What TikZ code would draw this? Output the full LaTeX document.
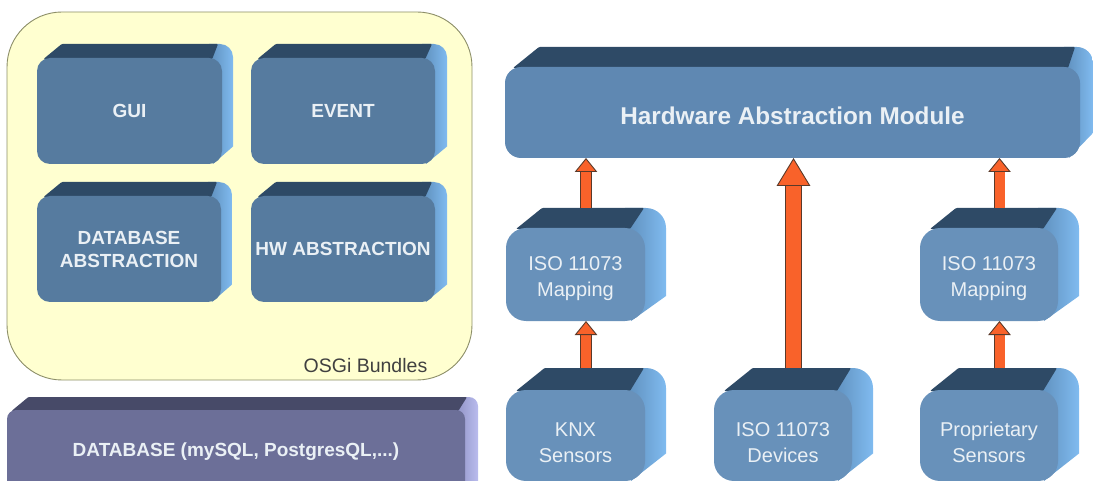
\documentclass[tikz,border=0pt]{standalone}
\usepackage{fontspec}
\setmainfont{Liberation Sans}
\usetikzlibrary{arrows.meta}
\definecolor{frontA}{HTML}{567B9F}
\definecolor{frontB}{HTML}{6891BA}
\definecolor{frontC}{HTML}{5F88B2}
\definecolor{topA}{HTML}{2E4A66}
\definecolor{sideA}{HTML}{80BBF0}
\definecolor{sideM}{HTML}{5D8DBA}
\definecolor{frontP}{HTML}{6C6F98}
\definecolor{topP}{HTML}{474A68}
\definecolor{sideP}{HTML}{BABCEE}
\definecolor{sideQ}{HTML}{8F92C4}
\definecolor{pale}{HTML}{FFFFD0}
\definecolor{paleEdge}{HTML}{8C8E68}
\definecolor{fatOrange}{HTML}{F9622A}
\definecolor{fatEdge}{HTML}{5A3A2A}
\definecolor{labelW}{HTML}{EAF0F5}
\tikzset{
  x=1pt,y=-1pt,
  frontface/.style={rectangle,inner sep=0pt,outer sep=0pt},
  facetext/.style={inner sep=0pt,align=center,text=labelW},
  boldlabel/.style={font=\bfseries\fontsize{19}{23}\selectfont},
  biglabel/.style={font=\bfseries\fontsize{24.3}{27}\selectfont},
  thinlabel/.style={font=\fontsize{20}{26}\selectfont},
  fatarrow/.style 2 args={draw=fatEdge,line width=.9pt,double=fatOrange,double distance=#1,
     -{Triangle[length=#2,width={#1*2.25},fill=fatOrange,color=fatEdge,line width=.9pt]}},
}
% name, x1,y1,x2,y2, dx,dy, radius, front colour
\newcommand{\solidbox}[9]{%
  \pgfmathsetmacro{\xa}{#2}\pgfmathsetmacro{\ya}{#3}\pgfmathsetmacro{\xb}{#4}\pgfmathsetmacro{\yb}{#5}%
  \pgfmathsetmacro{\dxx}{#6}\pgfmathsetmacro{\dyy}{#7}\pgfmathsetmacro{\rad}{#8}%
  \shade[left color=\lookmid,middle color=\lookside!75!\lookmid,right color=\lookside]
    (\xb-\rad,\ya-\dyy) [rounded corners=\rad pt] -- (\xb+\dxx,\ya-\dyy) [sharp corners] -- (\xb+\dxx,\yb-\dyy*1.25) -- (\xb-\rad*0.7,\yb) -- cycle;
  \fill[\looktop,rounded corners=1pt]
    (\xa+\rad*0.5,\ya+1) -- (\xa+\rad*0.5+\dyy*1.3,\ya-\dyy) -- (\xb+\dxx-\rad-2,\ya-\dyy) -- (\xb-\rad*0.75,\ya+1) -- cycle;
  \node[frontface,fill=#9,rounded corners=\rad pt,minimum width={(\xb-\xa)*1pt},minimum height={(\yb-\ya)*1pt}]
    (#1) at ({(\xa+\xb)/2},{(\ya+\yb)/2}) {};
  \node[facetext,\looktext,yshift=-\lookdrop pt] (#1-text) at (#1.center) {\looklabel};
  \coordinate (#1-back) at ({(\xa+\xb)/2+\dxx/2},\ya-\dyy);
}
\newcommand{\boxlook}[6]{\def\lookmid{#1}\def\lookside{#2}\def\looktop{#3}\def\looktext{#4}\def\lookdrop{#5}\def\looklabel{#6}}
\begin{document}
\begin{tikzpicture}
\useasboundingbox (0,0) rectangle (1093,481);
\clip (0,0) rectangle (1093,481);
% OSGi container
\node[draw=paleEdge,line width=.9pt,fill=pale,rectangle,rounded corners=55pt,inner sep=0pt,
      minimum width=465pt,minimum height=368pt] (osgi) at (239.5,196) {};
\node[inner sep=0pt,text=black!75,font=\fontsize{19.5}{22}\selectfont] (osgilabel) at (365.5,366) {OSGi Bundles};
% bundles
\boxlook{sideM}{sideA}{topA}{boldlabel}{0}{GUI}
\solidbox{gui}{37}{58}{222}{164}{11}{14}{13}{frontA}
\boxlook{sideM}{sideA}{topA}{boldlabel}{0}{EVENT}
\solidbox{event}{251}{58}{435}{164}{12}{14}{13}{frontA}
\boxlook{sideM}{sideA}{topA}{boldlabel}{0}{DATABASE\\ABSTRACTION}
\solidbox{dbabs}{37}{196}{221}{302}{11}{14}{13}{frontA}
\boxlook{sideM}{sideA}{topA}{boldlabel}{0}{HW ABSTRACTION}
\solidbox{hwabs}{251}{196}{435}{302}{12}{14}{13}{frontA}
% database
\boxlook{sideQ}{sideP}{topP}{boldlabel}{-3}{DATABASE (mySQL, PostgresQL,...)}
\solidbox{database}{7}{410}{465}{500}{13}{13}{9}{frontP}
% hardware abstraction
\boxlook{sideM}{sideA}{topA}{biglabel}{3}{Hardware Abstraction Module}
\solidbox{ham}{505}{67}{1080}{158}{13}{20}{16}{frontC}
% mappings and sources
\boxlook{sideM}{sideA}{topA}{thinlabel}{4}{ISO 11073\\Mapping}
\solidbox{mapl}{506}{228}{645}{321}{21}{20}{20}{frontB}
\solidbox{mapr}{920}{228}{1058}{321}{21}{20}{20}{frontB}
\boxlook{sideM}{sideA}{topA}{thinlabel}{7}{KNX\\Sensors}
\solidbox{knx}{506}{390}{645}{481}{21}{22}{20}{frontB}
\boxlook{sideM}{sideA}{topA}{thinlabel}{7}{ISO 11073\\Devices}
\solidbox{isodev}{714}{390}{852}{481}{21}{22}{20}{frontB}
\boxlook{sideM}{sideA}{topA}{thinlabel}{7}{Proprietary\\Sensors}
\solidbox{prop}{920}{390}{1058}{481}{21}{22}{20}{frontB}
% connectors
\draw[fatarrow={10pt}{14pt}] (mapl-back) -- (mapl-back |- ham.south);
\draw[fatarrow={10pt}{14pt}] (mapr-back) -- (mapr-back |- ham.south);
\draw[fatarrow={10pt}{14pt}] (knx-back) -- (knx-back |- mapl.south);
\draw[fatarrow={10pt}{14pt}] (prop-back) -- (prop-back |- mapr.south);
\draw[fatarrow={15pt}{28pt}] (isodev-back) -- (isodev-back |- ham.south);
\end{tikzpicture}
\end{document}
